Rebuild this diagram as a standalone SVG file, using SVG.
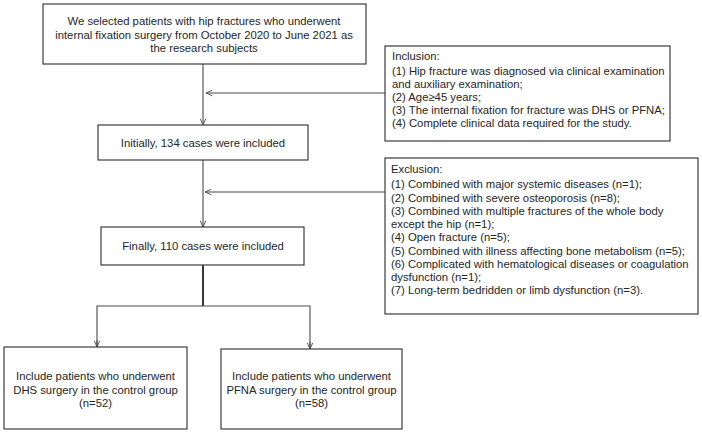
<svg xmlns="http://www.w3.org/2000/svg" width="702" height="434" viewBox="0 0 702 434">
<defs>
<style>
.box{fill:#fff;stroke:#3c3c3c;stroke-width:1.2}
.t{font-family:"Liberation Sans",Arial,sans-serif;font-size:11.3px;fill:#262626}
.c{text-anchor:middle}
.ln{fill:none;stroke:#4a4a4a;stroke-width:1.1}
</style>
<marker id="ah" viewBox="0 0 10 10" refX="10" refY="5" markerWidth="7" markerHeight="7" markerUnits="userSpaceOnUse" orient="auto">
<path d="M1,1 L10,5 L1,9" fill="none" stroke="#4a4a4a" stroke-width="1.3"/>
</marker>
</defs>
<rect width="702" height="434" fill="#fff"/>
<g id="connectors">
<line class="ln" x1="203" y1="64" x2="203" y2="125" marker-end="url(#ah)"/>
<line class="ln" x1="385" y1="93" x2="206" y2="93" marker-end="url(#ah)"/>
<line class="ln" x1="203" y1="160" x2="203" y2="227" marker-end="url(#ah)"/>
<line class="ln" x1="385" y1="192" x2="205" y2="192" marker-end="url(#ah)"/>
<line x1="203" y1="265" x2="203" y2="306" stroke="#222" stroke-width="1.8"/>
<polyline class="ln" points="97,347 97,306 310,306 310,349"/>
<line class="ln" x1="97" y1="340" x2="97" y2="347" marker-end="url(#ah)"/>
<line class="ln" x1="310" y1="342" x2="310" y2="349" marker-end="url(#ah)"/>
</g>
<g id="start">
<rect class="box" x="43" y="4" width="323" height="60"/>
<text class="t c" x="204" y="25">We selected patients with hip fractures who underwent</text>
<text class="t c" x="204" y="38.5">internal fixation surgery from October 2020 to June 2021 as</text>
<text class="t c" x="204" y="52">the research subjects</text>
</g>
<g id="inclusion">
<rect class="box" x="385" y="46" width="285" height="95"/>
<text class="t" x="392" y="60">Inclusion:</text>
<text class="t" x="392" y="75">(1) Hip fracture was diagnosed via clinical examination</text>
<text class="t" x="392" y="88">and auxiliary examination;</text>
<text class="t" x="392" y="101">(2) Age≥45 years;</text>
<text class="t" x="392" y="114">(3) The internal fixation for fracture was DHS or PFNA;</text>
<text class="t" x="392" y="127">(4) Complete clinical data required for the study.</text>
</g>
<g id="initially">
<rect class="box" x="98" y="125" width="210" height="35"/>
<text class="t c" x="203" y="147">Initially, 134 cases were included</text>
</g>
<g id="exclusion">
<rect class="box" x="385" y="158" width="313" height="156"/>
<text class="t" x="391" y="173">Exclusion:</text>
<text class="t" x="391" y="188">(1) Combined with major systemic diseases (n=1);</text>
<text class="t" x="391" y="201.5">(2) Combined with severe osteoporosis (n=8);</text>
<text class="t" x="391" y="215">(3) Combined with multiple fractures of the whole body</text>
<text class="t" x="391" y="228">except the hip (n=1);</text>
<text class="t" x="391" y="241">(4) Open fracture (n=5);</text>
<text class="t" x="391" y="254.5">(5) Combined with illness affecting bone metabolism (n=5);</text>
<text class="t" x="391" y="268">(6) Complicated with hematological diseases or coagulation</text>
<text class="t" x="391" y="281">dysfunction (n=1);</text>
<text class="t" x="391" y="294">(7) Long-term bedridden or limb dysfunction (n=3).</text>
</g>
<g id="finally">
<rect class="box" x="101" y="227" width="203" height="38"/>
<text class="t c" x="203" y="250">Finally, 110 cases were included</text>
</g>
<g id="dhs">
<rect class="box" x="4" y="347" width="183" height="82"/>
<text class="t c" x="95.5" y="380">Include patients who underwent</text>
<text class="t c" x="95.5" y="393.5">DHS surgery in the control group</text>
<text class="t c" x="95.5" y="407">(n=52)</text>
</g>
<g id="pfna">
<rect class="box" x="221" y="349" width="181" height="80"/>
<text class="t c" x="311.5" y="380">Include patients who underwent</text>
<text class="t c" x="311.5" y="393.5">PFNA surgery in the control group</text>
<text class="t c" x="311.5" y="407">(n=58)</text>
</g>
</svg>
